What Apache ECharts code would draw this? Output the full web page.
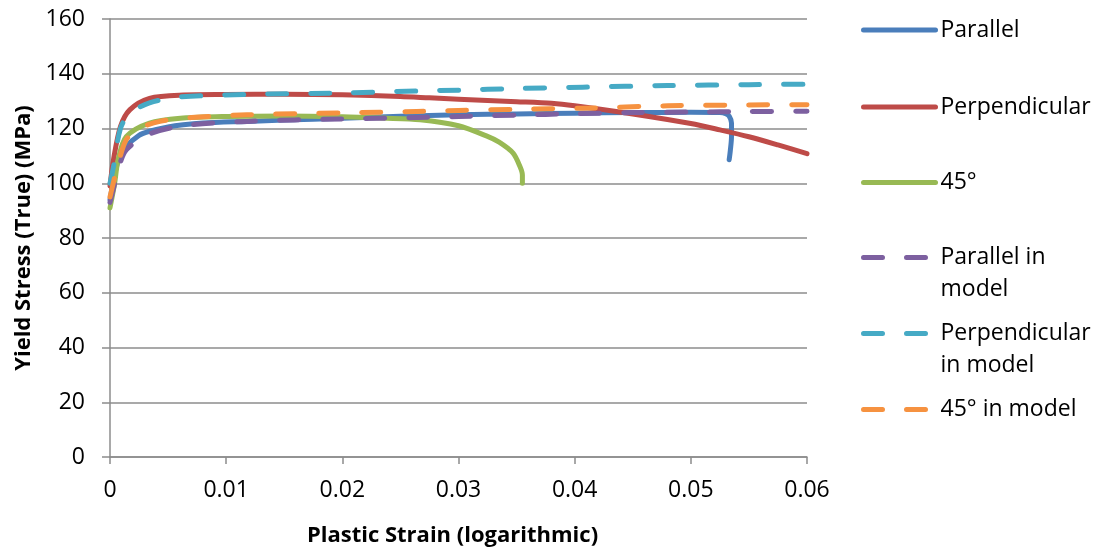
<!DOCTYPE html>
<html>
<head>
<meta charset="utf-8">
<script src="https://cdn.jsdelivr.net/npm/echarts@6/dist/echarts.min.js"></script>
<style>
html,body{margin:0;padding:0;background:#fff;}
#chart{width:1094px;height:552px;}
</style>
</head>
<body>
<div id="chart"></div>
<script>
// ---- data (x = plastic strain, y = yield stress MPa) ----
const xTickLabels = ['0', '0.01', '0.02', '0.03', '0.04', '0.05', '0.06'];
const yTickLabels = ['0', '20', '40', '60', '80', '100', '120', '140', '160'];

const parallel = [[0,94],[0.0003,101],[0.0007,108],[0.0014,113.4],[0.0025,117.5],[0.0034,119],[0.005,120.6],[0.0063,121.4],[0.008,122],[0.0118,122.6],[0.015,123.1],[0.02,123.7],[0.025,124.5],[0.03,125],[0.035,125.3],[0.04,125.6],[0.045,125.8],[0.05,125.9],[0.0525,125.8],[0.053,125.4],[0.0533,124.5],[0.0535,122],[0.0535,117],[0.0534,112],[0.0533,108.6]];
const perpendicular = [[0,99],[0.0003,108.6],[0.0009,120.7],[0.0017,126.8],[0.0034,131],[0.0063,132.2],[0.01,132.4],[0.015,132.5],[0.02,132.3],[0.025,131.7],[0.0275,131.2],[0.03,130.7],[0.035,129.8],[0.038,129.2],[0.04,128.3],[0.045,125.3],[0.05,121.8],[0.0525,119.5],[0.055,117],[0.0575,114],[0.06,110.8]];
const deg45 = [[0,91],[0.0004,100],[0.0007,108.6],[0.0014,117],[0.0034,122],[0.0063,123.8],[0.01,124.4],[0.015,124.6],[0.02,124.3],[0.0235,123.8],[0.0267,123.2],[0.03,121],[0.0324,117.3],[0.0335,115],[0.0347,111],[0.0353,106],[0.0355,103],[0.0355,100]];
const parallelModel = [[0,93],[0.0003,98],[0.0007,105],[0.0014,112.2],[0.0034,118],[0.0063,121],[0.0118,122.6],[0.02,123.5],[0.0264,124],[0.03,124.4],[0.035,124.9],[0.04,125.4],[0.045,125.8],[0.05,126],[0.055,126.2],[0.06,126.3]];
const perpendicularModel = [[0,100],[0.0003,106],[0.0009,120],[0.0017,125.5],[0.0034,129.4],[0.006,131.5],[0.0115,132.4],[0.02,133],[0.0264,133.7],[0.03,134],[0.035,134.6],[0.0407,135.1],[0.048,135.7],[0.055,136],[0.06,136.2]];
const deg45Model = [[0,95],[0.00015,97.7],[0.0006,105.5],[0.0014,115.9],[0.0025,120],[0.0043,122.6],[0.007,124],[0.0118,125],[0.02,125.7],[0.0264,126.2],[0.03,126.6],[0.035,127],[0.0407,127.4],[0.048,128.3],[0.055,128.6],[0.06,128.7]];

const seriesNames = ['Parallel', 'Perpendicular', '45°', 'Parallel in model', 'Perpendicular in model', '45° in model'];
const seriesData = [parallel, perpendicular, deg45, parallelModel, perpendicularModel, deg45Model];
const colors = ['#4a7ebb', '#be4b48', '#98b954', '#7d60a0', '#46aac5', '#f69240'];
const dashed = [false, false, false, true, true, true];
const legendLabels = ['Parallel', 'Perpendicular', '45°', 'Parallel in\nmodel', 'Perpendicular\nin model', '45° in model'];
const legendCenters = [30, 107, 182.5, 257.5, 333.5, 409.5];

const FONT = '"Open Sans", sans-serif';
const dash = [19, 24];

const chart = echarts.init(document.getElementById('chart'), null, {renderer: 'canvas'});

const series = seriesNames.map((name, i) => ({
  name: name,
  type: 'line',
  data: seriesData[i],
  showSymbol: false,
  symbol: 'none',
  smooth: 0.3,
  color: colors[i],
  lineStyle: {
    color: colors[i],
    width: 5,
    type: dashed[i] ? dash : 'solid',
    cap: 'round',
    join: 'round'
  },
  z: 2 + i,
  animation: false
}));

const legends = seriesNames.map((name, i) => {
  const twoLine = legendLabels[i].indexOf('\n') >= 0;
  return {
    data: [name],
    orient: 'vertical',
    left: 861,
    top: legendCenters[i] - (twoLine ? 48 : 16),
    padding: 0,
    itemWidth: 72,
    itemHeight: 14,
    // blank first line keeps the line icon level with the first text line
    formatter: () => (twoLine ? '\n' : '') + legendLabels[i],
    selectedMode: false,
    itemStyle: {opacity: 0, color: 'transparent', borderWidth: 0},
    lineStyle: {width: 5, cap: 'round', type: dashed[i] ? dash : 'solid'},
    textStyle: {
      fontFamily: FONT,
      fontSize: 23,
      lineHeight: 32,
      color: '#000'
    }
  };
});

chart.setOption({
  animation: false,
  backgroundColor: '#fff',
  grid: {left: 110, right: 287, top: 19, bottom: 94, containLabel: false},
  legend: legends,
  xAxis: {
    type: 'value',
    min: 0, max: 0.06, interval: 0.01,
    name: 'Plastic Strain (logarithmic)',
    nameLocation: 'middle',
    nameGap: 68,
    nameTextStyle: {fontFamily: FONT, fontSize: 22, fontWeight: 'bold', color: '#000', padding: [0, 12, 0, 0]},
    axisLine: {show: true, lineStyle: {color: '#8c8c8c', width: 1.5}},
    axisTick: {show: true, length: 7, inside: false, lineStyle: {color: '#8c8c8c', width: 1.5}},
    splitLine: {show: false},
    axisLabel: {
      fontFamily: FONT, fontSize: 23, color: '#000', margin: 22,
      formatter: (v) => xTickLabels[Math.round(v / 0.01)]
    }
  },
  yAxis: {
    type: 'value',
    min: 0, max: 160, interval: 20,
    name: 'Yield Stress (True) (MPa)',
    nameLocation: 'middle',
    nameGap: 57,
    nameTextStyle: {fontFamily: FONT, fontSize: 22, fontWeight: 'bold', color: '#000'},
    axisLine: {show: true, lineStyle: {color: '#8c8c8c', width: 1.5}},
    axisTick: {show: true, length: 8, inside: false, lineStyle: {color: '#8c8c8c', width: 1.5}},
    splitLine: {show: true, lineStyle: {color: '#8c8c8c', width: 1.5}},
    axisLabel: {
      fontFamily: FONT, fontSize: 23, color: '#000', margin: 25,
      formatter: (v) => yTickLabels[Math.round(v / 20)]
    }
  },
  series: series
});
</script>
</body>
</html>
